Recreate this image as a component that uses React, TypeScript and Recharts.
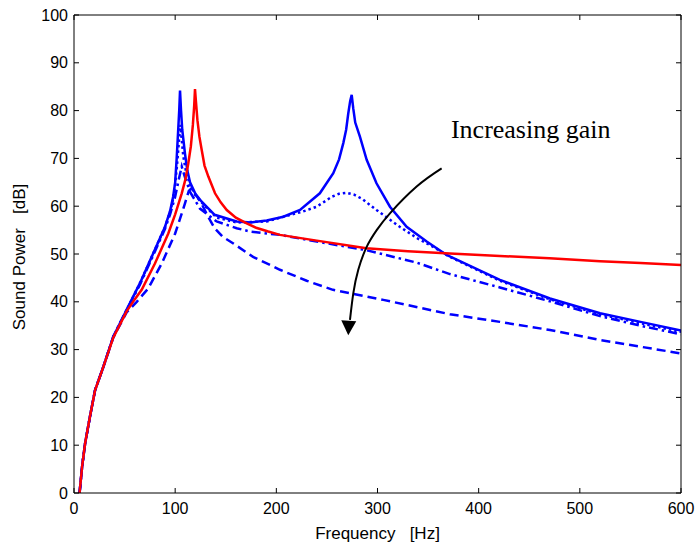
import React from 'react';
import { LineChart, Line, XAxis, YAxis, ReferenceDot } from 'recharts';

// [frequency Hz, sound power dB]
const uncontrolled: [number, number][] = [
  [5.5, 0], [8, 5.5], [11, 10.4], [15.8, 16], [20.8, 21.5], [29, 26.4], [38.8, 32.5], [52, 38],
  [60, 40.5], [66.9, 42.5], [80, 48], [93.2, 54.3], [100, 58.3], [106.5, 62.7], [110, 65.5], [113, 69],
  [115.5, 72.5], [117.5, 77], [118.8, 81], [119.6, 84.5], [120.5, 82], [122, 78], [124, 74.5],
  [126.2, 71.8], [129, 68.5], [132.8, 66.2], [139.4, 62.7], [145, 60.8], [151, 59.2], [160, 57.6],
  [170.7, 56.4], [180, 55.5], [192, 54.7], [203.6, 54], [240, 52.8], [289, 51.2], [330, 50.6],
  [371.6, 50.1], [421, 49.6], [470, 49.1], [520, 48.5], [560, 48.1], [600, 47.7],
];

const gainLow: [number, number][] = [
  [5.5, 0], [8, 5.5], [11, 10.4], [15.8, 16], [20.8, 21.5], [29, 26.4], [38.8, 32.7], [52, 38.3],
  [60, 41.7], [65.2, 43.9], [76.8, 49.4], [90, 55.7], [95, 59], [98, 62], [100, 65], [101.5, 70],
  [103, 76], [104, 80], [104.8, 84.2], [105.8, 80], [107, 76], [109.7, 71], [112, 67.5], [114.7, 65],
  [120, 62.6], [126, 61], [139, 58.2], [160.8, 56.8], [175, 56.6], [190.5, 57], [207, 57.8],
  [223.4, 59.2], [243, 62.7], [256.3, 66.9], [262, 69.8], [266.2, 73.2], [269, 76], [271.1, 79.4],
  [273, 82], [274.5, 83.3], [276, 80.5], [278, 77.5], [282.7, 74.5], [289.3, 69.7], [299, 64.8],
  [312.3, 59.9], [328.8, 55.7], [348.6, 52.6], [368.4, 49.8], [421, 44.6], [470.5, 40.7],
  [520, 37.6], [560, 35.8], [600, 34],
];

const gainMid: [number, number][] = [
  [5.5, 0], [8, 5.5], [11, 10.4], [15.8, 16], [20.8, 21.5], [29, 26.4], [38.8, 32.7], [52, 38.3],
  [60, 41.7], [65.2, 43.9], [76.8, 49.4], [90, 55.7], [95, 58.8], [98, 61.5], [100, 64.5], [102, 69],
  [103.5, 73], [105, 77], [106.5, 74], [108, 70.5], [110.5, 67.5], [114.7, 64.5], [120, 62.3],
  [126, 60.8], [141, 57.6], [160.8, 56.6], [190.5, 56.8], [207, 57.8], [225, 58.8], [240, 59.9],
  [255, 62], [262, 62.6], [269.5, 62.8], [277, 62.4], [285, 61.5], [299, 59.2], [322, 55.7],
  [340, 53.2], [355, 51.5], [371.6, 49.4], [421, 44.4], [470.5, 40.5], [520, 37.4], [560, 35.5],
  [600, 33.7],
];

const gainHigh: [number, number][] = [
  [5.5, 0], [8, 5.5], [11, 10.4], [15.8, 16], [20.8, 21.5], [29, 26.4], [38.8, 32.7], [52, 38.3],
  [60, 41.5], [65.2, 43.6], [76.8, 49], [90, 55.3], [95, 58.3], [100, 62], [104, 66], [106.5, 68.3],
  [109, 66.5], [114.7, 63], [124.5, 59.5], [141, 56.8], [160.8, 55.4], [174, 54.7], [190.5, 54.3],
  [203.6, 54], [240, 52.6], [289, 50.8], [338.7, 48.2], [371.6, 45.8], [421, 43], [470.5, 40.1],
  [520, 37], [560, 35], [600, 33.2],
];

const gainMax: [number, number][] = [
  [5.5, 0], [8, 5.5], [11, 10.4], [15.8, 16], [20.8, 21.5], [29, 26.4], [38.8, 32.5], [52, 37.8],
  [62, 40], [73.4, 42.8], [86.7, 48], [100, 54.3], [105, 57.5], [109.7, 60.6], [113.5, 63.2],
  [116, 63.7], [120, 62.5], [126, 60.6], [132, 58], [139, 55.4], [147, 53.6], [157.5, 52.2],
  [177, 49.4], [203.6, 46.7], [230, 44.4], [256, 42.5], [305.7, 40.4], [371.6, 37.4], [421, 35.8],
  [470.5, 34.1], [520, 32], [560, 30.6], [600, 29.2],
];

// annotation arrow path in data units
const arrowPath: [number, number][] = [
  [363.4, 67.9], [338.7, 64.1], [312.3, 58.5], [299.2, 55], [289.3, 51.5], [281, 46.7],
  [276.1, 41.8], [272.8, 36.2],
];
const arrowTip: [number, number] = [271.1, 33];
const notePos: [number, number] = [372.6, 74.3];
const noteText = 'Increasing gain';

const xTicks = [0, 100, 200, 300, 400, 500, 600];
const yTicks = [0, 10, 20, 30, 40, 50, 60, 70, 80, 90, 100];

const toRows = (pts: [number, number][]) => pts.map(([f, db]) => ({ f, db }));

const SANS = '"Liberation Sans", Arial, sans-serif';
const SERIF = '"Liberation Serif", "Times New Roman", serif';
const BLUE = '#0000ff';
const RED = '#ff0000';

// plot box, from the margins / axis sizes below
const W = 699;
const H = 548;
const LEFT_W = 74;
const RIGHT_W = 18;
const TOP_H = 15;
const BOTTOM_H = 55;
const PLOT_TOP = TOP_H;
const PLOT_RIGHT = W - RIGHT_W;
const TICK_LEN = 5;

// MATLAB-style ticks: short marks pointing into the box, mirrored on top and right
const BottomTick = ({ x, y, payload }: any) => (
  <g>
    <line x1={x} x2={x} y1={y - 10} y2={y - 10 - TICK_LEN} stroke="#000" />
    <line x1={x} x2={x} y1={PLOT_TOP} y2={PLOT_TOP + TICK_LEN} stroke="#000" />
    <text x={x} y={y} dy="0.71em" textAnchor="middle" fontSize={16} fontFamily={SANS} fill="#000">
      {payload.value}
    </text>
  </g>
);

const LeftTick = ({ x, y, payload }: any) => (
  <g>
    <line x1={x + 6} x2={x + 6 + TICK_LEN} y1={y} y2={y} stroke="#000" />
    <line x1={PLOT_RIGHT} x2={PLOT_RIGHT - TICK_LEN} y1={y} y2={y} stroke="#000" />
    <text x={x} y={y} dy="0.355em" textAnchor="end" fontSize={16} fontFamily={SANS} fill="#000">
      {payload.value}
    </text>
  </g>
);

export default function App() {
  return (
    <div style={{ position: 'absolute', left: 0, top: 0, background: '#fff' }}>
      <LineChart width={W} height={H} margin={{ top: 0, right: 0, bottom: 0, left: 0 }}>
        <XAxis
          dataKey="f"
          type="number"
          domain={[0, 600]}
          ticks={xTicks}
          allowDataOverflow
          height={BOTTOM_H}
          tickSize={0}
          tickMargin={10}
          tickLine={false}
          stroke="#000"
          tick={<BottomTick />}
          label={{
            content: ({ viewBox }: any) => (
              <text
                x={viewBox.x + viewBox.width / 2}
                y={viewBox.y + 46}
                textAnchor="middle"
                fontFamily={SANS}
                fontSize={17}
                fill="#000"
              >
                {'Frequency\u00a0\u00a0\u00a0[Hz]'}
              </text>
            ),
          }}
        />
        <XAxis
          xAxisId="top"
          orientation="top"
          type="number"
          domain={[0, 600]}
          allowDataOverflow
          height={TOP_H}
          tickLine={false}
          tick={false}
          stroke="#000"
        />
        <YAxis
          type="number"
          domain={[0, 100]}
          ticks={yTicks}
          allowDataOverflow
          width={LEFT_W}
          tickSize={0}
          tickMargin={6}
          tickLine={false}
          stroke="#000"
          tick={<LeftTick />}
          label={{
            content: ({ viewBox }: any) => {
              const x = 25;
              const y = viewBox.y + viewBox.height / 2 + 3;
              return (
                <text
                  x={x}
                  y={y}
                  transform={`rotate(-90, ${x}, ${y})`}
                  textAnchor="middle"
                  fontFamily={SANS}
                  fontSize={17}
                  fill="#000"
                >
                  {'Sound Power\u00a0\u00a0\u00a0[dB]'}
                </text>
              );
            },
          }}
        />
        <YAxis
          yAxisId="right"
          orientation="right"
          type="number"
          domain={[0, 100]}
          allowDataOverflow
          width={RIGHT_W}
          tickLine={false}
          tick={false}
          stroke="#000"
        />

        <Line data={toRows(gainLow)} dataKey="db" type="linear" stroke={BLUE} strokeWidth={2.5} dot={false} isAnimationActive={false} />
        <Line data={toRows(gainMid)} dataKey="db" type="linear" stroke={BLUE} strokeWidth={2.5} strokeDasharray="2.5 3" dot={false} isAnimationActive={false} />
        <Line data={toRows(gainHigh)} dataKey="db" type="linear" stroke={BLUE} strokeWidth={2.5} strokeDasharray="9 4 2.5 4" dot={false} isAnimationActive={false} />
        <Line data={toRows(gainMax)} dataKey="db" type="linear" stroke={BLUE} strokeWidth={2.5} strokeDasharray="9 5" dot={false} isAnimationActive={false} />
        <Line data={toRows(uncontrolled)} dataKey="db" type="linear" stroke={RED} strokeWidth={2.5} dot={false} isAnimationActive={false} />

        <Line data={toRows(arrowPath)} dataKey="db" type="natural" stroke="#000" strokeWidth={2} dot={false} isAnimationActive={false} />
        <ReferenceDot
          x={arrowTip[0]}
          y={arrowTip[1]}
          shape={(p: any) => (
            <polygon
              points={`${p.cx},${p.cy} ${p.cx - 7},${p.cy - 15} ${p.cx + 8},${p.cy - 14}`}
              fill="#000"
            />
          )}
        />
        <ReferenceDot
          x={notePos[0]}
          y={notePos[1]}
          shape={(p: any) => (
            <text x={p.cx} y={p.cy} fontFamily={SERIF} fontSize={26} fill="#000">
              {noteText}
            </text>
          )}
        />
      </LineChart>
    </div>
  );
}
